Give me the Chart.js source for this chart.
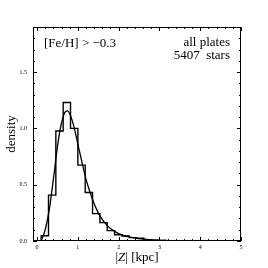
<!DOCTYPE html>
<html>
<head>
<meta charset="utf-8">
<script src="https://cdn.jsdelivr.net/npm/chart.js@4"></script>
<style>
  html, body { margin: 0; padding: 0; background: #fff; }
</style>
</head>
<body>
<canvas id="chart" width="268" height="268"></canvas>
<script>
// histograma |Z| (bordes de bins y densidad)
const binEdges = [0.10, 0.28, 0.46, 0.64, 0.82, 1.00, 1.18, 1.36, 1.54, 1.72, 1.90, 2.08, 2.26, 2.44, 2.62, 2.80, 2.98, 3.16, 3.34, 3.52];
const binHeights = [0.047, 0.407, 0.976, 1.23, 1.0, 0.674, 0.43, 0.243, 0.163, 0.092, 0.055, 0.045, 0.03, 0.024, 0.01, 0.006, 0.004, 0.003, 0.002];

// curva ajustada
const curveX = [0.10, 0.20, 0.30, 0.40, 0.50, 0.60, 0.70, 0.75, 0.80, 0.90, 1.00, 1.10, 1.20, 1.30, 1.40, 1.50, 1.60, 1.70, 1.80, 1.90, 2.00, 2.20, 2.40, 2.60, 2.80, 3.00, 3.20, 3.50, 4.00, 5.00];
const curveY = [0.0, 0.10, 0.28, 0.55, 0.84, 1.05, 1.15, 1.155, 1.13, 1.02, 0.86, 0.70, 0.55, 0.43, 0.33, 0.25, 0.19, 0.145, 0.11, 0.085, 0.065, 0.04, 0.025, 0.016, 0.01, 0.006, 0.004, 0.002, 0.0005, 0.0];

const xTicks = [0, 1, 2, 3, 4, 5];
const yTicks = [0.0, 0.5, 1.0, 1.5];

const SERIF = '"Liberation Serif", "Times New Roman", serif';

const histPoints = [{x: binEdges[0], y: 0}];
for (let i = 0; i < binHeights.length; i++) histPoints.push({x: binEdges[i], y: binHeights[i]});
histPoints.push({x: binEdges[binEdges.length - 1], y: 0});

const curvePoints = curveX.map((x, i) => ({x: x, y: curveY[i]}));

// ticks hacia dentro en los 4 lados + marco + textos
const framePlugin = {
    id: 'frame',
    afterDraw(chart) {
        const ctx = chart.ctx, a = chart.chartArea;
        const xs = chart.scales.x, ys = chart.scales.y;
        ctx.save();
        ctx.strokeStyle = '#000';
        ctx.lineWidth = 1;
        ctx.strokeRect(a.left + 0.5, a.top + 0.5, a.right - a.left - 1, a.bottom - a.top - 1);

        ctx.beginPath();
        for (let v = 0; v <= 5.0001; v += 0.2) {
            const px = Math.round(xs.getPixelForValue(v)) + 0.5;
            const major = Math.abs(v - Math.round(v)) < 1e-6;
            const len = major ? 4 : 2;
            ctx.moveTo(px, a.bottom); ctx.lineTo(px, a.bottom - len);
            ctx.moveTo(px, a.top); ctx.lineTo(px, a.top + len);
        }
        for (let v = 0; v <= 1.9001; v += 0.1) {
            const py = Math.round(ys.getPixelForValue(v)) + 0.5;
            const major = Math.abs(v * 2 - Math.round(v * 2)) < 1e-6;
            const len = major ? 4 : 2;
            ctx.moveTo(a.left, py); ctx.lineTo(a.left + len, py);
            ctx.moveTo(a.right, py); ctx.lineTo(a.right - len, py);
        }
        ctx.stroke();

        ctx.fillStyle = '#000';
        ctx.textBaseline = 'middle';
        ctx.font = '13px ' + SERIF;
        ctx.textAlign = 'left';
        ctx.fillText('[Fe/H] > \u22120.3', a.left + 11, a.top + 16.5);
        ctx.textAlign = 'right';
        ctx.fillText('all plates', a.right - 11, a.top + 16);
        ctx.fillText('5407  stars', a.right - 11, a.top + 28.5);

        // titulo eje x con Z en cursiva
        const parts = [['|', ''], ['Z', 'italic '], ['| [kpc]', '']];
        let total = 0;
        parts.forEach(p => { ctx.font = p[1] + '13px ' + SERIF; total += ctx.measureText(p[0]).width; });
        let x0 = (a.left + a.right) / 2 - total / 2;
        ctx.textAlign = 'left';
        parts.forEach(p => {
            ctx.font = p[1] + '13px ' + SERIF;
            ctx.fillText(p[0], x0, 257.5);
            x0 += ctx.measureText(p[0]).width;
        });

        // titulo eje y
        ctx.font = '13px ' + SERIF;
        ctx.translate(11.5, (a.top + a.bottom) / 2);
        ctx.rotate(-Math.PI / 2);
        ctx.textAlign = 'center';
        ctx.fillText('density', 0, 0);
        ctx.restore();
    }
};

new Chart(document.getElementById('chart'), {
    type: 'line',
    data: {
        datasets: [{
            label: 'histograma',
            data: histPoints,
            stepped: 'before',
            borderColor: '#000',
            borderWidth: 1.4,
            pointRadius: 0,
            fill: false
        }, {
            label: 'ajuste',
            data: curvePoints,
            cubicInterpolationMode: 'monotone',
            borderColor: '#000',
            borderWidth: 1.3,
            pointRadius: 0,
            fill: false
        }]
    },
    options: {
        responsive: false,
        animation: false,
        devicePixelRatio: 1,
        layout: { padding: { left: 0, top: 27, right: 27, bottom: 0 } },
        plugins: {
            legend: { display: false },
            tooltip: { enabled: false }
        },
        scales: {
            x: {
                type: 'linear',
                min: -0.1,
                max: 5,
                afterBuildTicks: s => { s.ticks = xTicks.map(v => ({value: v})); },
                afterFit: s => { s.height = 27; },
                grid: { display: false, drawTicks: false },
                border: { display: false },
                ticks: {
                    color: '#000',
                    font: { family: SERIF, size: 6 },
                    padding: 3,
                    maxRotation: 0,
                    autoSkip: false,
                    callback: v => String(v)
                }
            },
            y: {
                min: 0,
                max: 1.9,
                afterBuildTicks: s => { s.ticks = yTicks.map(v => ({value: v})); },
                afterFit: s => { s.width = 33; },
                grid: { display: false, drawTicks: false },
                border: { display: false },
                ticks: {
                    color: '#000',
                    font: { family: SERIF, size: 6 },
                    padding: 6,
                    autoSkip: false,
                    callback: v => v.toFixed(1)
                }
            }
        }
    },
    plugins: [framePlugin]
});
</script>
</body>
</html>
